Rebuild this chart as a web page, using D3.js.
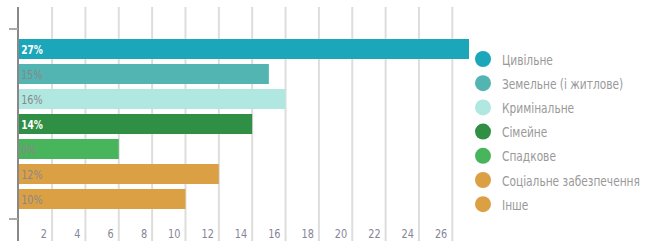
<!DOCTYPE html>
<html>
<head>
<meta charset="utf-8">
<script src="https://cdn.jsdelivr.net/npm/d3@7"></script>
<style>
    body { margin: 0; background: #fff; }
    text { font-family: "DejaVu Sans", sans-serif; }
</style>
</head>
<body>
<div class="chart"></div>
<script>
// categories and values (percent)
const categories = ["Цивільне", "Земельне (і житлове)", "Кримінальне", "Сімейне", "Спадкове", "Соціальне забезпечення", "Інше"];
const values = [27, 15, 16, 14, 6, 12, 10];
const colors = ["#1ba7b9", "#52b5b1", "#b0e7e0", "#2f8f44", "#48b55c", "#dca044", "#dca044"];
const labelColors = ["#fff", "#888", "#888", "#fff", "#888", "#888", "#888"];
const xTicks = [2, 4, 6, 8, 10, 12, 14, 16, 18, 20, 22, 24, 26];

const width = 658, height = 251;
const plot = {left: 18.7, right: 469, top: 7, bottom: 241};

const svg = d3.select(".chart")
    .append("svg")
    .attr("width", width)
    .attr("height", height);

const x = d3.scaleLinear()
    .domain([0, 27])
    .range([plot.left, plot.right]);

const y = d3.scaleBand()
    .domain(categories)
    .range([36.5, 211.5])
    .paddingInner(0.2)
    .paddingOuter(0.1);

// gridlines
svg.append("g")
    .selectAll("line")
    .data(xTicks).enter()
    .append("line")
    .attr("x1", d => x(d))
    .attr("x2", d => x(d))
    .attr("y1", plot.top)
    .attr("y2", plot.bottom)
    .attr("stroke", "#dddddd")
    .attr("stroke-width", 2);

// tick labels (original font is narrow, so squeeze horizontally)
svg.append("g")
    .selectAll("text")
    .data(xTicks).enter()
    .append("text")
    .attr("transform", d => "translate(" + (x(d) - 5) + ",237.5) scale(0.78,1)")
    .attr("text-anchor", "end")
    .attr("fill", "#858599")
    .style("font-size", "12.5px")
    .text(d => d);

// bars
svg.append("g")
    .selectAll("rect")
    .data(values).enter()
    .append("rect")
    .attr("x", x(0))
    .attr("y", (d, i) => y(categories[i]))
    .attr("width", d => x(d) - x(0))
    .attr("height", y.bandwidth())
    .attr("fill", (d, i) => colors[i]);

// value labels
svg.append("g")
    .selectAll("text")
    .data(values).enter()
    .append("text")
    .attr("transform", (d, i) => "translate(" + (x(0) + 2.5) + "," + (y(categories[i]) + y.bandwidth() / 2 + 5) + ") scale(" + (labelColors[i] === "#fff" ? 0.7 : 0.74) + ",1)")
    .attr("fill", (d, i) => labelColors[i])
    .style("font-size", "13px")
    .style("font-weight", (d, i) => labelColors[i] === "#fff" ? "bold" : "normal")
    .text(d => d + "%");

// left axis
const yr = y.range();
svg.append("line")
    .attr("x1", 18).attr("x2", 18)
    .attr("y1", plot.top).attr("y2", plot.bottom)
    .attr("stroke", "#888").attr("stroke-width", 2);
svg.append("g")
    .selectAll("line")
    .data([yr[0] - 7.5, yr[1] + 7.5]).enter()
    .append("line")
    .attr("x1", 9).attr("x2", 18)
    .attr("y1", d => d).attr("y2", d => d)
    .attr("stroke", "#aaa").attr("stroke-width", 2);

// legend
const legend = svg.append("g")
    .selectAll("g")
    .data(categories).enter()
    .append("g")
    .attr("transform", (d, i) => "translate(483," + (59 + i * 24.2) + ")");
legend.append("circle")
    .attr("r", 8)
    .attr("fill", (d, i) => colors[i]);
const legendText = legend.append("text")
    .attr("fill", "#999")
    .style("font-size", "14.5px")
    .text(d => d);

// longest label is ~138px wide in the original
let longest = 0;
legendText.each(function () { longest = Math.max(longest, this.getComputedTextLength()); });
legendText.attr("transform", "translate(19,5.5) scale(" + (138 / longest).toFixed(3) + ",1)");
</script>
</body>
</html>
